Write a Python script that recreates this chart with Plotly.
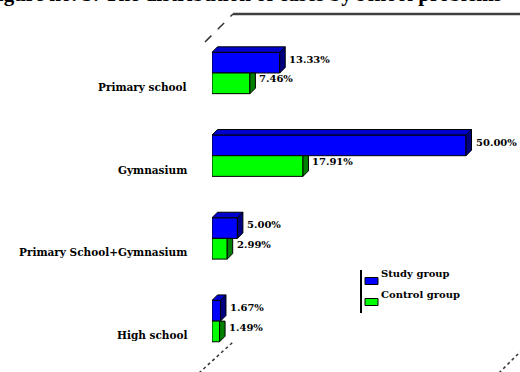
import plotly.graph_objects as go

categories = ["Primary school", "Gymnasium", "Primary School+Gymnasium", "High school"]
study_group = [13.33, 50.00, 5.00, 1.67]
control_group = [7.46, 17.91, 2.99, 1.49]
series_names = ["Study group", "Control group"]
title_text = "Figure no. 5: The distribution of cases by school problems"

W, H = 520, 372
ML, MR, MT, MB = 212, 0, 20, 20
PW, PH = W - ML - MR, H - MT - MB
X_PER_UNIT = 5.08
Y_PER_UNIT = 82.7
x_range = [0, PW / X_PER_UNIT]
y_top = -(73 - MT) / Y_PER_UNIT
y_range = [y_top + PH / Y_PER_UNIT, y_top]  # reversed

bw = 0.25                    # bar thickness (category units)
dx = 5.5 / X_PER_UNIT        # 3D depth, x
dy = 5.5 / Y_PER_UNIT        # 3D depth, y

BLUE, BLUE_TOP, BLUE_SIDE = "#0000FF", "#0000CC", "#000080"
GREEN, GREEN_SIDE = "#00FF00", "#008000"

def px(x):
    return (x - ML) / PW

def py(y):
    return (H - MB - y) / PH

idx = list(range(len(categories)))

fig = go.Figure()
fig.add_trace(go.Bar(
    y=[i - bw / 2 for i in idx], x=study_group, orientation="h", width=bw,
    name=series_names[0], marker=dict(color=BLUE, line=dict(color="black", width=1)),
    hoverinfo="skip"))
fig.add_trace(go.Bar(
    y=[i + bw / 2 for i in idx], x=control_group, orientation="h", width=bw,
    name=series_names[1], marker=dict(color=GREEN, line=dict(color="black", width=1)),
    hoverinfo="skip"))

# 3D faces
def poly_trace(polys, color):
    xs, ys = [], []
    for p in polys:
        for (a, b) in p:
            xs.append(a); ys.append(b)
        xs.append(p[0][0]); ys.append(p[0][1])
        xs.append(None); ys.append(None)
    return go.Scatter(x=xs, y=ys, fill="toself", fillcolor=color, mode="lines",
                      line=dict(color="black", width=1), showlegend=False,
                      hoverinfo="skip")

green_sides = []
for i, g in zip(idx, control_group):
    green_sides.append([(g, i + bw), (g + dx, i + bw - dy), (g + dx, i), (g, i)])
blue_sides, blue_tops = [], []
for i, b in zip(idx, study_group):
    blue_sides.append([(b, i), (b + dx, i - dy), (b + dx, i - bw - dy), (b, i - bw)])
    blue_tops.append([(0, i - bw), (dx, i - bw - dy), (b + dx, i - bw - dy), (b, i - bw)])
fig.add_trace(poly_trace(green_sides, GREEN_SIDE))
fig.add_trace(poly_trace(blue_sides, BLUE_SIDE))
fig.add_trace(poly_trace(blue_tops, BLUE_TOP))

annotations = []
lab_font = dict(family="DejaVu Serif", size=10, color="black", weight="bold")
cat_font = dict(family="DejaVu Serif", size=10.5, color="black", weight="bold")
for i, (b, g) in enumerate(zip(study_group, control_group)):
    annotations.append(dict(x=b + dx, y=i - bw / 2 - dy * 0.6, xref="x", yref="y",
                            text=f"{b:.2f}%", showarrow=False, xanchor="left",
                            xshift=2, font=lab_font))
    annotations.append(dict(x=g + dx, y=i + bw / 2 - dy * 0.8, xref="x", yref="y",
                            text=f"{g:.2f}%", showarrow=False, xanchor="left",
                            xshift=2, font=lab_font))
    annotations.append(dict(x=0, y=i + 14 / Y_PER_UNIT, xref="paper", yref="y",
                            text=categories[i], showarrow=False, xanchor="right",
                            xshift=-23, font=cat_font))

# custom legend
leg_y = [281, 302]
leg_col = [BLUE, GREEN]
shapes = []
for name, yy, col in zip(series_names, leg_y, leg_col):
    shapes.append(dict(type="rect", xref="paper", yref="paper",
                       x0=px(365), x1=px(378), y0=py(yy + 3.5), y1=py(yy - 3.5),
                       fillcolor=col, line=dict(color="black", width=1)))
    annotations.append(dict(x=px(379), y=py(yy), xref="paper", yref="paper",
                            text=name, showarrow=False, xanchor="left",
                            font=lab_font))
shapes.append(dict(type="line", xref="paper", yref="paper", x0=px(361), x1=px(361),
                   y0=py(270), y1=py(313), line=dict(color="black", width=2)))

# frame decoration
shapes.append(dict(type="line", xref="paper", yref="paper", x0=px(233), x1=px(521),
                   y0=py(14), y1=py(14), line=dict(color="#404040", width=2.5)))
shapes.append(dict(type="line", xref="paper", yref="paper", x0=px(205), x1=px(233),
                   y0=py(42), y1=py(14), line=dict(color="#333333", width=1.5, dash="dash")))
shapes.append(dict(type="line", xref="paper", yref="paper", x0=px(199), x1=px(233),
                   y0=py(373), y1=py(342), line=dict(color="#333333", width=1.5, dash="dot")))
shapes.append(dict(type="line", xref="paper", yref="paper", x0=px(499), x1=px(521),
                   y0=py(373), y1=py(351), line=dict(color="#333333", width=1.5, dash="dot")))

annotations.append(dict(x=px(-17), y=py(8.2), xref="paper", yref="paper",
                        text=title_text, showarrow=False, xanchor="left", yanchor="bottom",
                        font=dict(family="Liberation Serif", size=21, color="black",
                                  weight="bold")))

fig.update_layout(
    width=W, height=H, margin=dict(l=ML, r=MR, t=MT, b=MB),
    paper_bgcolor="white", plot_bgcolor="white",
    showlegend=False, barmode="overlay",
    xaxis=dict(range=x_range, visible=False, fixedrange=True),
    yaxis=dict(range=y_range, visible=False, fixedrange=True),
    annotations=annotations, shapes=shapes,
)

fig.write_html("out.html")
